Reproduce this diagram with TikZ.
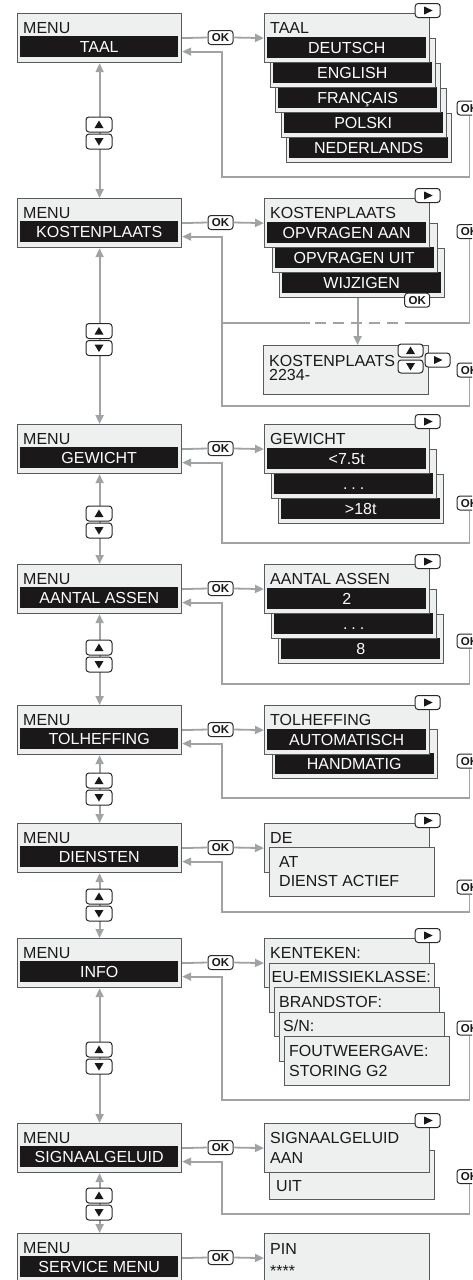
\documentclass[tikz,border=0pt]{standalone}
\usepackage{fontspec}
\usetikzlibrary{arrows.meta,calc,positioning}
\newfontfamily\lcdfont{Liberation Sans}
\newcommand{\lcdsize}{\lcdfont\fontsize{16}{19}\selectfont}
\newcommand{\keysize}{\lcdfont\bfseries\fontsize{11.5}{12}\selectfont}
\newcommand{\lcddots}{.\hspace{4pt}.\hspace{4pt}.}
\definecolor{screenfill}{RGB}{238,240,240}
\definecolor{screenline}{RGB}{88,91,94}
\definecolor{lcdblack}{RGB}{26,24,24}
\definecolor{flowgray}{RGB}{160,163,166}
\definecolor{keyline}{RGB}{40,40,40}

\tikzset{
  menubox/.style={draw=screenline, fill=screenfill, line width=1.2pt,
    minimum width=164pt, minimum height=49pt, inner sep=0pt, anchor=north west},
  card/.style={menubox, minimum width=165pt},
  menubar/.style={fill=lcdblack, text=white, font=\lcdsize, minimum width=158pt,
    minimum height=21pt, inner sep=0pt, text height=11.5pt, text depth=0pt, anchor=north west},
  cardbar/.style={menubar, minimum width=159pt},
  lcdtext/.style={font=\lcdsize, text=lcdblack, anchor=base west, inner sep=0pt},
  flow/.style={draw=flowgray, line width=1.8pt},
  keycap/.style={draw=keyline, fill=white, line width=1pt, rounded corners=3pt,
    minimum width=25pt, minimum height=14pt, inner sep=0pt},
  okkey/.style={keycap, font=\keysize, text=lcdblack, text height=8.3pt, text depth=0pt},
  playkey/.style={keycap, path picture={\fill[lcdblack, sharp corners]
    ([xshift=-3.5pt,yshift=-4pt]path picture bounding box.center) -- ++(0pt,8pt) -- ++(8.5pt,-4pt) -- cycle;}},
  upkey/.style={keycap, minimum width=26pt, minimum height=15pt, path picture={\fill[lcdblack, sharp corners]
    ([xshift=-4.5pt,yshift=-3.5pt]path picture bounding box.center) -- ++(9pt,0pt) -- ++(-4.5pt,7.5pt) -- cycle;}},
  downkey/.style={keycap, minimum width=26pt, minimum height=15pt, path picture={\fill[lcdblack, sharp corners]
    ([xshift=-4.5pt,yshift=3.5pt]path picture bounding box.center) -- ++(9pt,0pt) -- ++(-4.5pt,-7.5pt) -- cycle;}},
  smallup/.style={upkey, minimum width=25pt, minimum height=13pt},
  smalldown/.style={downkey, minimum width=25pt, minimum height=13pt}
}

\begin{document}
\begin{tikzpicture}[x=1pt, y=-1pt, >={Triangle[length=9pt,width=8pt]}]
\useasboundingbox (0,0) rectangle (472,1280);
\clip (0,0) rectangle (472,1280);
\fill[white] (0,0) rectangle (472,1280);

%% ── LEFT COLUMN: main menu screens ───────────────────────────────────────
\foreach \n/\t/\lbl in {1/13/TAAL,2/198/KOSTENPLAATS,3/424/GEWICHT,4/564/AANTAL ASSEN,
    5/705/TOLHEFFING,6/823/DIENSTEN,7/938/INFO,8/1123/SIGNAALGELUID,9/1233/SERVICE MENU}{
  \node[menubox] (m\n) at (17,\t) {};
  \node[lcdtext] (mhead\n) at ($(m\n.north west)+(6,20)$) {MENU};
  \node[menubar] (mbar\n) at ($(m\n.north west)+(3,23)$) {\lbl};
  \node[okkey] (ok\n) at (220.5,{\t+24.5}) {OK};
  \draw[flow] (m\n.east) -- (ok\n.west);
}

% up/down keys between the menu screens
\foreach \a/\b/\y in {1/2/133,2/3/339.5,3/4/522,4/5/656,5/6/789,6/7/905,7/8/1058,8/9/1204}{
  \draw[flow,<->] (m\a.south) -- (m\b.north);
  \node[upkey] (up\a) at (99,{\y-8.5}) {};
  \node[downkey] (dn\a) at (99,{\y+8.5}) {};
}

%% ── TAAL ─────────────────────────────────────────────────────────────────
\foreach \i/\lbl in {4/NEDERLANDS,3/POLSKI,2/FRANÇAIS,1/ENGLISH,0/DEUTSCH}{
  \node[card] (taal\i) at ({264+5.5*\i},{13+25*\i}) {};
  \node[cardbar] (taalbar\i) at ($(taal\i.north west)+(3,24)$) {\lbl};
}
\node[lcdtext] (taalhead) at ($(taal0.north west)+(6,20)$) {TAAL};
\node[playkey] (taalplay) at ($(taal0.north east)+(-2.5,-2.5)$) {};
\draw[flow,->] (ok1.east) -- (taal0.west);
\node[okkey] (okr1) at (469.5,108) {OK};
\coordinate (ret1) at (222,177);
\draw[flow,->] (okr1.south) |- (ret1) |- ($(m1.east)+(0,13.5)$);

%% ── KOSTENPLAATS ─────────────────────────────────────────────────────────
\foreach \i/\lbl in {2/WIJZIGEN,1/OPVRAGEN UIT,0/OPVRAGEN AAN}{
  \node[card] (kost\i) at ({264+7.5*\i},{198+25*\i}) {};
  \node[cardbar] (kostbar\i) at ($(kost\i.north west)+(3,24)$) {\lbl};
}
\node[lcdtext] (kosthead) at ($(kost0.north west)+(6,20)$) {KOSTENPLAATS};
\node[playkey] (kostplay) at ($(kost0.north east)+(-2.5,-2.5)$) {};
\node[okkey] (okw) at ($(kost2.south east)+(-28,2)$) {OK};
\draw[flow,->] (ok2.east) -- (kost0.west);

% entry screen
\node[card] (kin) at (263,345) {};
\node[lcdtext] (kinhead) at ($(kin.north west)+(6,21)$) {KOSTENPLAATS};
\node[lcdtext] (kinval) at ($(kin.north west)+(6,35)$) {2234-};
\node[smallup] (kinup) at (410.5,350.5) {};
\node[smalldown] (kindn) at (410.5,366.5) {};
\node[playkey] (kinplay) at (437.5,360) {};
\coordinate (kdown) at ($(kost2.south)+(-4.5,0)$);
\draw[flow,->] (kdown) -- (kdown |- kin.north);

% back paths
\node[okkey] (okr2a) at (469.5,231.5) {OK};
\node[okkey] (okr2b) at (469.5,370) {OK};
\coordinate (dash1) at (405,323);
\coordinate (dash2) at (310,323);
\coordinate (dash3) at (222,323);
\draw[flow] (okr2a.south) |- (dash1);
\draw[flow, dash pattern=on 11pt off 7pt, dash phase=11pt] (dash1) -- (dash2);
\draw[flow] (dash2) -- (dash3);
\coordinate (ret2) at (222,406);
\draw[flow,->] (okr2b.south) |- (ret2) |- ($(m2.east)+(0,13.5)$);

%% ── GEWICHT ──────────────────────────────────────────────────────────────
\foreach \i/\lbl in {2/>18t,1/\lcddots,0/<7.5t}{
  \node[card] (gew\i) at ({264+7*\i},{424+25*\i}) {};
  \node[cardbar] (gewbar\i) at ($(gew\i.north west)+(3,24)$) {\lbl};
}
\node[lcdtext] (gewhead) at ($(gew0.north west)+(6,20)$) {GEWICHT};
\node[playkey] (gewplay) at ($(gew0.north east)+(-2.5,-2.5)$) {};
\draw[flow,->] (ok3.east) -- (gew0.west);
\node[okkey] (okr3) at (469.5,503) {OK};
\coordinate (ret3) at (222,543);
\draw[flow,->] (okr3.south) |- (ret3) |- ($(m3.east)+(0,13.5)$);

%% ── AANTAL ASSEN ─────────────────────────────────────────────────────────
\foreach \i/\lbl in {2/8,1/\lcddots,0/2}{
  \node[card] (as\i) at ({264+7*\i},{564+25*\i}) {};
  \node[cardbar] (asbar\i) at ($(as\i.north west)+(3,24)$) {\lbl};
}
\node[lcdtext] (ashead) at ($(as0.north west)+(6,20)$) {AANTAL ASSEN};
\node[playkey] (asplay) at ($(as0.north east)+(-2.5,-2.5)$) {};
\draw[flow,->] (ok4.east) -- (as0.west);
\node[okkey] (okr4) at (469.5,641) {OK};
\coordinate (ret4) at (222,684);
\draw[flow,->] (okr4.south) |- (ret4) |- ($(m4.east)+(0,13.5)$);

%% ── TOLHEFFING ───────────────────────────────────────────────────────────
\foreach \i/\lbl in {1/HANDMATIG,0/AUTOMATISCH}{
  \node[card] (tol\i) at ({264+7.5*\i},{705+24*\i}) {};
  \node[cardbar] (tolbar\i) at ($(tol\i.north west)+(3,24)$) {\lbl};
}
\node[lcdtext] (tolhead) at ($(tol0.north west)+(6,20)$) {TOLHEFFING};
\node[playkey] (tolplay) at ($(tol0.north east)+(-2.5,-2.5)$) {};
\draw[flow,->] (ok5.east) -- (tol0.west);
\node[okkey] (okr5) at (469.5,761) {OK};
\coordinate (ret5) at (222,798);
\draw[flow,->] (okr5.south) |- (ret5) |- ($(m5.east)+(0,13.5)$);

%% ── DIENSTEN ─────────────────────────────────────────────────────────────
\node[card] (dien0) at (264,823) {};
\node[lcdtext] (dienhead) at ($(dien0.north west)+(6,20)$) {DE};
\node[card] (dien1) at (269,847) {};
\node[lcdtext] (dienat) at ($(dien1.north west)+(10,20)$) {AT};
\node[lcdtext] (dienact) at ($(dien1.north west)+(10,39)$) {DIENST ACTIEF};
\node[playkey] (dienplay) at ($(dien0.north east)+(-2.5,-2.5)$) {};
\draw[flow,->] (ok6.east) -- (dien0.west);
\node[okkey] (okr6) at (469.5,887) {OK};
\coordinate (ret6) at (222,912);
\draw[flow,->] (okr6.south) |- (ret6) |- ($(m6.east)+(0,13.5)$);

%% ── INFO ─────────────────────────────────────────────────────────────────
\foreach \i/\lbl/\off in {0/KENTEKEN:/6,1/EU-EMISSIEKLASSE:/2.5,2/BRANDSTOF:/5,3/{S/N:}/4,4/FOUTWEERGAVE:/5}{
  \node[card] (info\i) at ({264+5*\i},{938+24.5*\i}) {};
  \node[lcdtext] (infohead\i) at ($(info\i.north west)+(\off,20)$) {\lbl};
}
\node[lcdtext] (infoerr) at ($(info4.north west)+(5,40)$) {STORING G2};
\node[playkey] (infoplay) at ($(info0.north east)+(-2.5,-2.5)$) {};
\draw[flow,->] (ok7.east) -- (info0.west);
\node[okkey] (okr7) at (469.5,1028) {OK};
\coordinate (ret7) at (222,1100);
\draw[flow,->] (okr7.south) |- (ret7) |- ($(m7.east)+(0,13.5)$);

%% ── SIGNAALGELUID ────────────────────────────────────────────────────────
\node[card] (sig1) at (269,1150) {};
\node[lcdtext] (siguit) at ($(sig1.north west)+(7,41)$) {UIT};
\node[card] (sig0) at (264,1123) {};
\node[lcdtext] (sighead) at ($(sig0.north west)+(6,20)$) {SIGNAALGELUID};
\node[lcdtext] (sigaan) at ($(sig0.north west)+(6,40)$) {AAN};
\node[playkey] (sigplay) at ($(sig0.north east)+(-2.5,-2.5)$) {};
\draw[flow,->] (ok8.east) -- (sig0.west);
\node[okkey] (okr8) at (469.5,1176.5) {OK};
\coordinate (ret8) at (222,1214);
\draw[flow,->] (okr8.south) |- (ret8) |- ($(m8.east)+(0,13.5)$);

%% ── SERVICE MENU ─────────────────────────────────────────────────────────
\node[card] (pin) at (264,1233) {};
\node[lcdtext] (pinhead) at ($(pin.north west)+(6,21)$) {PIN};
\node[lcdtext] (pinval) at ($(pin.north west)+(6,43)$) {****};
\draw[flow,->] (ok9.east) -- (pin.west);

\end{tikzpicture}
\end{document}
